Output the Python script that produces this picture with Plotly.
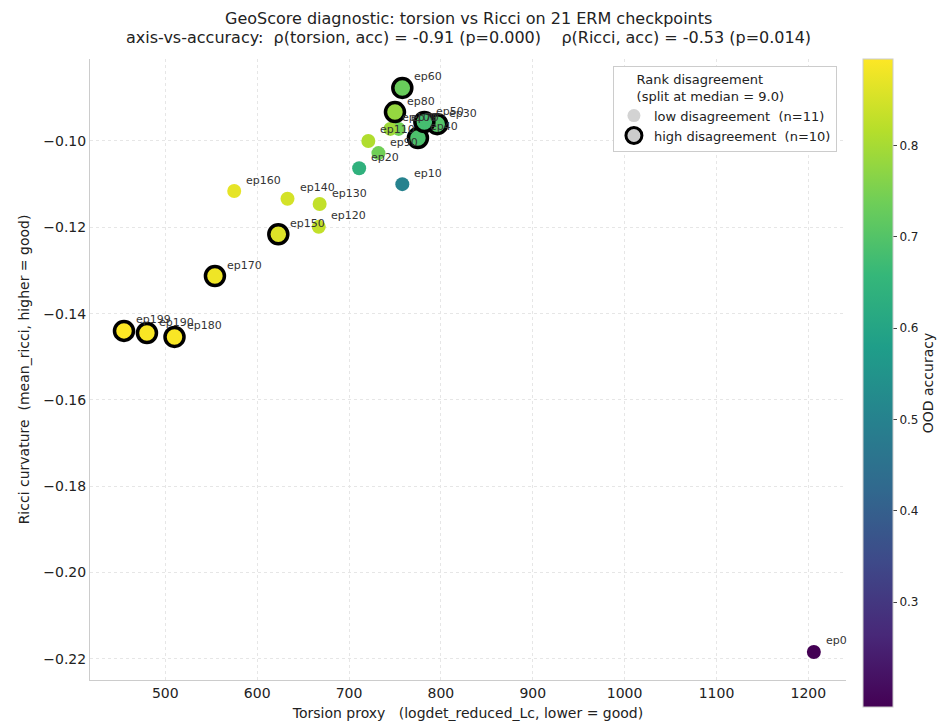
import plotly.graph_objects as go

# ---- data ----
labels = ["ep0", "ep10", "ep20", "ep30", "ep40", "ep50", "ep60", "ep70", "ep80", "ep90",
          "ep100", "ep110", "ep120", "ep130", "ep140", "ep150", "ep160", "ep170", "ep180",
          "ep190", "ep199"]
torsion = [1206, 758, 711, 796, 775, 782, 758, 754, 750, 732,
           745, 721, 667, 668, 633, 623, 575, 554, 510, 480, 455]
ricci = [-0.2184, -0.1100, -0.1063, -0.0961, -0.0993, -0.0956, -0.0877, -0.0972, -0.0933, -0.1028,
         -0.0972, -0.1000, -0.1199, -0.1146, -0.1134, -0.1216, -0.1116, -0.1313, -0.1454,
         -0.1445, -0.1440]
ood_acc = [0.185, 0.50, 0.64, 0.70, 0.69, 0.68, 0.73, 0.74, 0.78, 0.74,
           0.79, 0.81, 0.83, 0.83, 0.85, 0.86, 0.87, 0.88, 0.89, 0.89, 0.895]
high_disagree = [False, False, False, True, True, True, True, False, True, False,
                 False, False, False, False, False, True, False, True, True, True, True]

x_ticks = [500, 600, 700, 800, 900, 1000, 1100, 1200]
y_ticks = [-0.22, -0.20, -0.18, -0.16, -0.14, -0.12, -0.10]
cbar_ticks = [0.3, 0.4, 0.5, 0.6, 0.7, 0.8]

title_l1 = "GeoScore diagnostic: torsion vs Ricci on 21 ERM checkpoints"
title_l2 = "axis-vs-accuracy:  ρ(torsion, acc) = -0.91 (p=0.000)    ρ(Ricci, acc) = -0.53 (p=0.014)"

FONT = "DejaVu Sans"
cmin, cmax = min(ood_acc), max(ood_acc)

lo = [i for i, h in enumerate(high_disagree) if not h]
hi = [i for i, h in enumerate(high_disagree) if h]

fig = go.Figure()

fig.add_trace(go.Scatter(
    x=[torsion[i] for i in lo], y=[ricci[i] for i in lo], mode="markers",
    marker=dict(size=14, color=[ood_acc[i] for i in lo], colorscale="Viridis",
                cmin=cmin, cmax=cmax, line=dict(width=0),
                colorbar=dict(title=dict(text="OOD accuracy", side="right",
                                         font=dict(size=14, family=FONT, color="#222")),
                              tickvals=cbar_ticks, ticks="outside", ticklen=4,
                              tickcolor="#444", tickfont=dict(size=12, family=FONT, color="#222"),
                              thickness=30, len=648, lenmode="pixels",
                              x=1.0225, xanchor="left", y=1.0, yanchor="top",
                              xpad=0, ypad=0,
                              outlinecolor="#cccccc", outlinewidth=1)),
    showlegend=False, hoverinfo="skip"))

fig.add_trace(go.Scatter(
    x=[torsion[i] for i in hi], y=[ricci[i] for i in hi], mode="markers",
    marker=dict(size=19, color=[ood_acc[i] for i in hi], colorscale="Viridis",
                cmin=cmin, cmax=cmax, line=dict(width=3.5, color="black")),
    showlegend=False, hoverinfo="skip"))

# legend proxies
fig.add_trace(go.Scatter(x=[None], y=[None], mode="markers",
                         marker=dict(size=13, color="#d3d3d3", line=dict(width=0)),
                         name="low disagreement  (n=11)"))
fig.add_trace(go.Scatter(x=[None], y=[None], mode="markers",
                         marker=dict(size=16, color="#cccccc", line=dict(width=3, color="black")),
                         name="high disagreement  (n=10)"))

for lab, xv, yv in zip(labels, torsion, ricci):
    fig.add_annotation(x=xv, y=yv, text=lab, showarrow=False, xanchor="left", yanchor="middle",
                       xshift=10, yshift=11, font=dict(size=11, family=FONT, color="#333333"))

# title lines
fig.add_annotation(text=title_l1, xref="paper", yref="paper", x=0.5, y=1.066,
                   xanchor="center", yanchor="middle", showarrow=False,
                   font=dict(size=16, family=FONT, color="#222"))
fig.add_annotation(text=title_l2, xref="paper", yref="paper", x=0.5, y=1.0354,
                   xanchor="center", yanchor="middle", showarrow=False,
                   font=dict(size=16, family=FONT, color="#222"))

fig.update_layout(
    width=939, height=719,
    paper_bgcolor="white", plot_bgcolor="white",
    margin=dict(l=82, r=101, t=51, b=47, autoexpand=False),
    font=dict(family=FONT, color="#222"),
    legend=dict(x=0.988, y=0.989, xanchor="right", yanchor="top",
                bgcolor="white", bordercolor="#cccccc", borderwidth=1,
                font=dict(size=13, family=FONT, color="#222"),
                title=dict(text="     Rank disagreement<br>     (split at median = 9.0)",
                           font=dict(size=13, family=FONT, color="#222"), side="top"),
                itemsizing="trace", tracegroupgap=0),
)

fig.update_xaxes(range=[418, 1241], tickvals=x_ticks, showgrid=True, gridcolor="#e6e6e6",
                 griddash="dot", gridwidth=1, zeroline=False, showline=True, linecolor="#cccccc",
                 linewidth=1, mirror=False, ticks="", tickfont=dict(size=14, family=FONT, color="#222"),
                 title=dict(text="Torsion proxy   (logdet_reduced_Lc, lower = good)",
                            font=dict(size=14, family=FONT, color="#222"), standoff=8))
fig.update_yaxes(range=[-0.2249, -0.081], tickvals=y_ticks, tickformat=".2f", showgrid=True,
                 gridcolor="#e6e6e6", griddash="dot", gridwidth=1, zeroline=False, showline=True,
                 linecolor="#cccccc", linewidth=1, mirror=False, ticks="",
                 tickfont=dict(size=14, family=FONT, color="#222"),
                 title=dict(text="Ricci curvature  (mean_ricci, higher = good)",
                            font=dict(size=14, family=FONT, color="#222"), standoff=10))

fig.write_html("out.html")
